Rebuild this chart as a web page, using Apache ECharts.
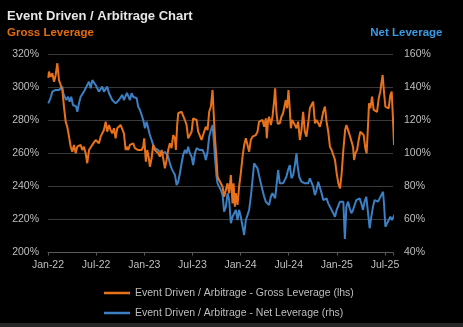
<!DOCTYPE html>
<html><head><meta charset="utf-8">
<script src="https://cdn.jsdelivr.net/npm/echarts@6/dist/echarts.min.js"></script>
<style>html,body{margin:0;padding:0;background:#000}#c{width:463px;height:327px}</style>
</head><body><div id="c"></div>
<script>
// x values are months since Jan-22
const tickLabels = ['Jan-22','Jul-22','Jan-23','Jul-23','Jan-24','Jul-24','Jan-25','Jul-25'];

const gMonths = [0.04,0.12,0.34,0.54,0.75,0.96,1.16,1.37,1.58,1.78,1.99,2.20,2.40,2.62,2.83,3.03,3.24,3.45,3.65,3.86,4.07,4.27,4.48,4.69,4.89,5.11,5.32,5.52,5.73,5.94,6.14,6.35,6.56,6.76,6.97,7.19,7.38,7.60,7.81,8.01,8.22,8.43,8.63,8.84,9.05,9.25,9.46,9.68,9.80,10.00,10.21,10.42,10.62,10.83,11.05,11.24,11.46,11.67,11.87,11.99,12.20,12.37,12.54,12.70,12.91,13.11,13.32,13.54,13.74,13.95,14.16,14.36,14.57,14.78,14.98,15.19,15.40,15.60,15.82,15.94,16.10,16.23,16.44,16.65,16.85,17.06,17.27,17.47,17.68,17.90,18.09,18.31,18.52,18.72,19.14,19.46,19.67,19.89,20.09,20.30,20.51,20.63,20.80,21.01,21.13,21.33,21.54,21.76,21.95,22.17,22.38,22.58,22.79,23.00,23.13,23.29,23.41,23.62,23.82,24.03,24.25,24.45,24.66,24.87,25.07,25.28,25.49,25.69,25.90,26.11,26.31,26.53,26.74,26.94,27.15,27.27,27.43,27.56,27.77,27.98,28.18,28.31,28.48,28.64,28.89,29.09,29.30,29.51,29.64,29.80,29.97,30.14,30.27,30.43,30.56,30.77,30.97,31.18,31.39,31.59,31.80,32.01,32.21,32.43,32.64,32.84,33.05,33.27,33.47,33.68,33.89,34.10,34.31,34.52,34.72,34.93,35.14,35.35,35.56,35.77,35.98,36.19,36.40,36.60,36.81,37.03,37.19,37.40,37.60,37.81,38.02,38.15,38.31,38.52,38.72,38.93,39.14,39.34,39.55,39.71,39.89,40.01,40.18,40.39,40.59,40.80,41.01,41.22,41.42,41.55,41.71,41.89,42.05,42.26,42.46,42.67,42.84,43.01,43.13,43.29,43.41];
const grossLeverage = [305.8,309.6,306.5,308.6,303.5,307.6,314.7,304.5,301.5,298.5,288.4,279.3,276.2,270.2,264.1,261.1,265.2,260.1,264.1,263.2,265.2,262.1,264.1,260.1,254.1,262.1,262.1,265.2,266.2,268.2,269.2,266.2,270.2,272.2,274.2,279.3,273.2,277.3,274.2,272.2,275.3,269.2,275.3,276.2,277.3,278.3,272.2,262.1,264.1,262.1,265.2,264.1,266.2,263.2,264.1,262.1,263.2,262.1,264.1,269.2,255.0,262.1,258.1,252.0,257.1,265.2,262.1,263.2,260.1,258.1,262.1,257.1,251.0,256.1,262.1,266.2,263.2,271.2,269.2,262.1,277.3,284.4,283.3,285.3,284.4,280.3,277.3,269.2,271.2,273.2,281.3,282.3,280.3,273.2,268.2,273.2,276.2,274.2,285.3,288.4,298.5,286.4,270.2,256.1,245.9,243.9,242.9,239.9,233.8,233.8,241.9,235.9,247.0,229.8,241.9,227.8,235.9,228.8,239.9,248.0,258.1,265.2,269.2,270.2,261.1,268.2,270.2,271.2,271.2,273.2,279.3,278.3,280.3,276.2,281.3,269.2,280.3,282.3,277.3,282.3,291.4,299.5,284.4,278.0,278.3,282.3,284.4,285.3,292.4,287.4,298.5,286.4,275.3,280.3,279.3,277.3,275.3,279.3,268.2,274.2,285.3,273.2,270.2,278.3,287.4,289.4,291.4,278.3,280.3,278.3,276.2,280.3,285.3,288.4,279.3,273.2,264.1,262.1,262.1,256.1,248.0,241.9,238.9,248.0,262.1,274.2,277.3,274.2,271.2,272.2,264.1,256.1,260.1,262.1,268.2,273.2,274.2,271.2,263.2,260.1,277.3,290.4,287.4,294.4,286.4,287.4,285.3,293.4,297.5,302.5,307.6,296.5,288.4,287.4,287.4,295.5,297.5,279.3,265.2,270.2,273.2];

const nMonths = [0.04,0.21,0.37,0.54,0.75,0.96,1.16,1.37,1.58,1.78,1.91,2.08,2.28,2.49,2.70,2.90,3.11,3.32,3.52,3.65,3.86,4.07,4.27,4.48,4.69,4.89,5.11,5.32,5.52,5.73,5.94,6.14,6.35,6.56,6.76,6.97,7.19,7.38,7.60,7.81,8.01,8.22,8.43,8.63,8.84,9.05,9.25,9.46,9.68,9.84,10.00,10.21,10.42,10.62,10.83,11.05,11.24,11.46,11.67,11.87,12.08,12.29,12.49,12.70,12.91,13.11,13.32,13.54,13.74,13.95,14.16,14.36,14.57,14.78,14.98,15.19,15.40,15.60,15.82,16.03,16.23,16.44,16.65,16.85,17.06,17.27,17.47,17.68,17.90,18.09,18.31,18.52,18.72,18.93,19.27,19.46,19.67,19.89,20.09,20.30,20.51,20.63,20.80,21.01,21.13,21.33,21.54,21.76,21.95,22.17,22.38,22.58,22.79,23.00,23.20,23.41,23.62,23.82,24.03,24.25,24.45,24.66,24.87,25.07,25.28,25.49,25.69,25.90,26.11,26.31,26.53,26.74,26.94,27.15,27.36,27.56,27.77,27.98,28.31,28.68,28.89,29.09,29.30,29.51,29.71,29.92,30.14,30.34,30.56,30.77,30.97,31.10,31.31,31.59,31.80,32.01,32.21,32.43,32.64,32.84,33.05,33.27,33.47,33.68,33.89,34.10,34.31,34.52,34.72,34.93,35.14,35.35,35.56,35.77,35.98,36.19,36.40,36.60,36.81,37.00,37.19,37.40,37.60,37.81,38.02,38.22,38.43,38.64,38.84,39.05,39.26,39.46,39.67,39.89,40.09,40.30,40.51,40.71,40.93,41.14,41.34,41.55,41.76,41.89,42.05,42.26,42.46,42.67,42.88,43.08,43.29,43.41];
const netLeverage = [130.4,132.4,134.4,137.5,138.5,138.5,138.1,138.5,139.5,140.5,136.5,134.4,132.4,134.4,131.4,134.4,129.4,130.4,128.4,125.3,130.4,134.4,135.5,137.5,139.5,141.5,143.5,139.5,144.5,143.5,141.5,139.5,137.5,136.5,140.5,137.5,136.5,140.5,136.5,135.5,132.4,131.4,130.4,131.4,132.4,133.5,135.5,132.4,133.5,136.7,137.5,132.4,136.5,134.4,134.4,133.5,128.4,126.4,123.3,120.3,115.3,119.3,115.3,111.2,108.2,105.2,103.2,102.1,102.1,101.1,99.1,98.1,101.1,102.1,98.1,94.1,91.0,89.0,87.0,80.9,82.9,88.0,94.1,99.1,102.1,100.1,104.1,100.1,98.1,93.0,100.1,103.2,104.1,102.1,102.1,100.1,96.1,101.1,110.2,114.2,117.3,110.2,98.1,85.9,81.9,82.9,77.9,74.8,64.7,67.8,75.9,71.8,57.7,61.7,60.7,65.8,59.7,65.8,61.7,60.7,50.6,59.7,62.7,65.8,73.8,83.9,94.1,93.0,91.0,90.0,81.9,82.9,73.8,70.8,69.8,68.8,73.8,75.9,72.8,90.0,81.9,80.9,81.9,80.9,85.9,90.0,93.0,85.0,87.0,93.0,100.1,93.0,85.9,82.9,82.9,81.9,80.9,81.9,85.0,85.9,79.9,74.8,77.9,82.9,81.9,75.9,71.8,70.8,72.8,69.8,67.8,67.8,63.8,61.7,65.8,66.8,70.8,69.8,70.8,48.2,67.8,70.8,66.8,63.8,65.8,68.8,71.8,70.8,72.8,69.8,65.8,70.8,73.8,63.8,54.7,61.7,67.8,71.8,70.8,70.8,72.8,72.8,76.8,68.8,55.6,57.7,57.7,61.7,59.7,61.7,63.8,63.8];

const grossName = 'Event Driven / Arbitrage - Gross Leverage (lhs)';
const netName = 'Event Driven / Arbitrage - Net Leverage (rhs)';

const FONT = "'Liberation Sans', Arial, sans-serif";
const ORANGE = '#E8721C';
const BLUE = '#3C7FC3';
const LABEL = '#bfbfbf';

const chart = echarts.init(document.getElementById('c'), null, {renderer: 'canvas'});
chart.setOption({
  backgroundColor: '#000',
  animation: false,
  textStyle: {fontFamily: FONT},
  graphic: [
    {type: 'text', x: 7, y: 16, style: {text: 'Event Driven / Arbitrage Chart', fill: '#e6e6e6', font: "bold 13px 'Liberation Sans', Arial", textVerticalAlign: 'middle'}},
    {type: 'text', x: 7, y: 33, style: {text: 'Gross Leverage', fill: '#E46C0A', font: "bold 11.5px 'Liberation Sans', Arial", textVerticalAlign: 'middle'}},
    {type: 'text', x: 442.5, y: 33, style: {text: 'Net Leverage', fill: '#3A9AE6', font: "bold 11.5px 'Liberation Sans', Arial", textAlign: 'right', textVerticalAlign: 'middle'}},
    {type: 'rect', shape: {x: 0, y: 323, width: 463, height: 4}, style: {fill: '#262626'}}
  ],
  grid: {left: 48, right: 70, top: 54.5, bottom: 74.5},
  legend: {
    data: [grossName, netName],
    orient: 'vertical', left: 99, top: 282,
    itemWidth: 26, itemHeight: 2.5, icon: 'rect', itemGap: 8,
    textStyle: {color: LABEL, fontSize: 10.5, lineHeight: 12, fontFamily: FONT}
  },
  xAxis: {
    type: 'value', min: 0, max: 43, interval: 6,
    axisLine: {lineStyle: {color: '#595959', width: 1}},
    axisTick: {show: true, length: 3, lineStyle: {color: '#595959'}},
    splitLine: {show: false},
    axisLabel: {color: LABEL, fontSize: 10.5, margin: 7, fontFamily: FONT,
      formatter: v => (v % 6 === 0 && tickLabels[v / 6]) ? tickLabels[v / 6] : ''}
  },
  yAxis: [
    {type: 'value', min: 200, max: 320, interval: 20, position: 'left',
     axisLine: {show: false}, axisTick: {show: false},
     splitLine: {lineStyle: {color: '#3a3a3a', width: 1}},
     axisLabel: {color: LABEL, fontSize: 10.5, margin: 9, formatter: '{value}%', fontFamily: FONT}},
    {type: 'value', min: 40, max: 160, interval: 20, position: 'right',
     axisLine: {show: false}, axisTick: {show: false}, splitLine: {show: false},
     axisLabel: {color: LABEL, fontSize: 10.5, margin: 11, formatter: '{value}%', fontFamily: FONT}}
  ],
  series: [
    {name: netName, type: 'line', yAxisIndex: 1, showSymbol: false, clip: false, z: 2,
     color: BLUE, lineStyle: {color: BLUE, width: 2},
     data: nMonths.map((m, i) => [m, netLeverage[i]])},
    {name: grossName, type: 'line', yAxisIndex: 0, showSymbol: false, clip: false, z: 3,
     color: ORANGE, lineStyle: {color: ORANGE, width: 2},
     data: gMonths.map((m, i) => [m, grossLeverage[i]])}
  ]
});
</script>
</body></html>
